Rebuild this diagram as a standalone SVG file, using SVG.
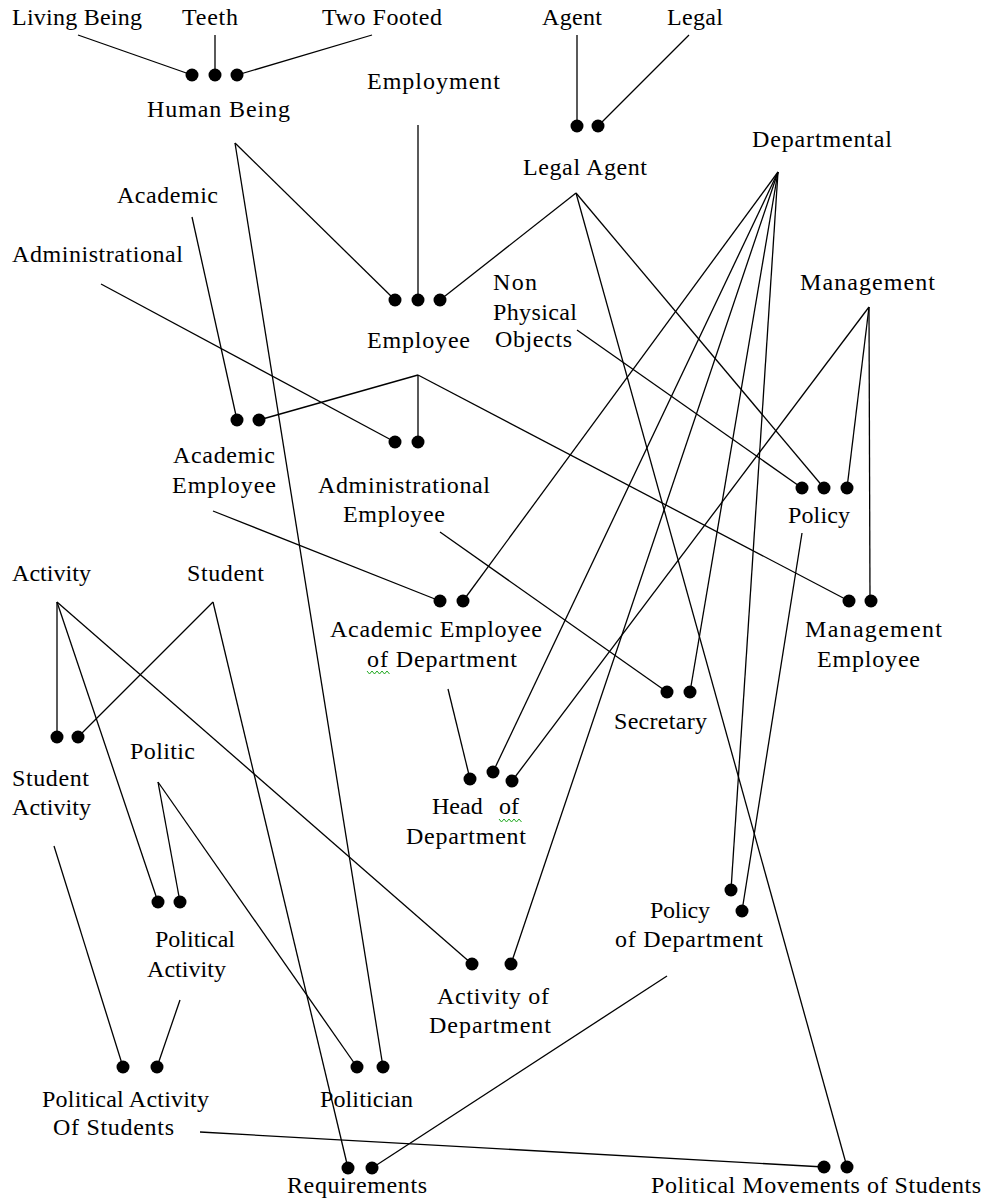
<svg xmlns="http://www.w3.org/2000/svg" width="985" height="1200" viewBox="0 0 985 1200">
<style>
text{font-family:"Liberation Serif","Times New Roman",serif;font-size:24px;fill:#000}
.c line{stroke:#000;stroke-width:1.3;fill:none}
.d{fill:#000}
.sq{stroke:#2a2;stroke-width:1;fill:none}
</style>
<defs><circle id="dot" r="6.5"/></defs>
<rect width="985" height="1200" fill="#fff"/>
<g id="connectors" class="c">
<line x1="78" y1="35" x2="192" y2="75"/>
<line x1="215" y1="35" x2="215" y2="75"/>
<line x1="372" y1="35" x2="237" y2="75"/>
<line x1="577" y1="35" x2="577" y2="126"/>
<line x1="689" y1="35" x2="598" y2="126"/>
<line x1="418" y1="125" x2="418" y2="300"/>
<line x1="235" y1="143" x2="395" y2="300"/>
<line x1="235" y1="143" x2="383" y2="1067"/>
<line x1="576" y1="193" x2="440" y2="300"/>
<line x1="576" y1="193" x2="824" y2="488"/>
<line x1="576" y1="193" x2="847" y2="1167"/>
<line x1="192" y1="217" x2="237" y2="420"/>
<line x1="101" y1="284" x2="395" y2="442"/>
<line x1="418" y1="375" x2="259" y2="420"/>
<line x1="418" y1="375" x2="418" y2="442"/>
<line x1="418" y1="375" x2="849" y2="601"/>
<line x1="577" y1="330" x2="802" y2="488"/>
<line x1="869" y1="307" x2="847" y2="488"/>
<line x1="869" y1="307" x2="870" y2="601"/>
<line x1="869" y1="307" x2="512" y2="781"/>
<line x1="778" y1="172" x2="463" y2="601"/>
<line x1="778" y1="172" x2="493" y2="772"/>
<line x1="778" y1="172" x2="511" y2="964"/>
<line x1="778" y1="172" x2="690" y2="692"/>
<line x1="778" y1="172" x2="731" y2="890"/>
<line x1="802" y1="533" x2="742" y2="911"/>
<line x1="213" y1="511" x2="440" y2="601"/>
<line x1="440" y1="532" x2="667" y2="692"/>
<line x1="448" y1="689" x2="470" y2="779"/>
<line x1="57" y1="602" x2="57" y2="737"/>
<line x1="57" y1="602" x2="158" y2="902"/>
<line x1="57" y1="602" x2="472" y2="964"/>
<line x1="213" y1="602" x2="78" y2="737"/>
<line x1="213" y1="602" x2="348" y2="1168"/>
<line x1="158" y1="782" x2="180" y2="902"/>
<line x1="158" y1="782" x2="357" y2="1067"/>
<line x1="54" y1="846" x2="123" y2="1067"/>
<line x1="180" y1="1000" x2="157" y2="1067"/>
<line x1="200" y1="1132" x2="824" y2="1167"/>
<line x1="667" y1="976" x2="372" y2="1168"/>
</g>
<g id="living-being"><text x="12" y="25" textLength="130" lengthAdjust="spacing">Living Being</text></g>
<g id="teeth"><text x="182" y="25" textLength="56" lengthAdjust="spacing">Teeth</text></g>
<g id="two-footed"><text x="322" y="25" textLength="120" lengthAdjust="spacing">Two Footed</text></g>
<g id="agent"><text x="542" y="25" textLength="60" lengthAdjust="spacing">Agent</text></g>
<g id="legal"><text x="667" y="25" textLength="56" lengthAdjust="spacing">Legal</text></g>
<g id="employment"><text x="367" y="89" textLength="133" lengthAdjust="spacing">Employment</text></g>
<g id="human-being" class="d">
<use href="#dot" x="192" y="75"/><use href="#dot" x="215" y="75"/><use href="#dot" x="237" y="75"/>
<text x="147" y="117" textLength="143" lengthAdjust="spacing">Human Being</text></g>
<g id="legal-agent" class="d">
<use href="#dot" x="577" y="126"/><use href="#dot" x="598" y="126"/>
<text x="523" y="175" textLength="124" lengthAdjust="spacing">Legal Agent</text></g>
<g id="departmental"><text x="752" y="147" textLength="140" lengthAdjust="spacing">Departmental</text></g>
<g id="academic"><text x="117" y="203" textLength="101" lengthAdjust="spacing">Academic</text></g>
<g id="administrational"><text x="12" y="262" textLength="171" lengthAdjust="spacing">Administrational</text></g>
<g id="non-physical-objects">
<text x="493" y="290" textLength="44" lengthAdjust="spacing">Non</text>
<text x="493" y="320" textLength="84" lengthAdjust="spacing">Physical</text>
<text x="495" y="347" textLength="77" lengthAdjust="spacing">Objects</text></g>
<g id="management"><text x="800" y="290" textLength="135" lengthAdjust="spacing">Management</text></g>
<g id="employee" class="d">
<use href="#dot" x="395" y="300"/><use href="#dot" x="418" y="300"/><use href="#dot" x="440" y="300"/>
<text x="367" y="348" textLength="103" lengthAdjust="spacing">Employee</text></g>
<g id="academic-employee" class="d">
<use href="#dot" x="237" y="420"/><use href="#dot" x="259" y="420"/>
<text x="173" y="463" textLength="102" lengthAdjust="spacing">Academic</text>
<text x="172" y="493" textLength="104" lengthAdjust="spacing">Employee</text></g>
<g id="administrational-employee" class="d">
<use href="#dot" x="395" y="442"/><use href="#dot" x="418" y="442"/>
<text x="318" y="493" textLength="172" lengthAdjust="spacing">Administrational</text>
<text x="343" y="522" textLength="102" lengthAdjust="spacing">Employee</text></g>
<g id="policy" class="d">
<use href="#dot" x="802" y="488"/><use href="#dot" x="824" y="488"/><use href="#dot" x="847" y="488"/>
<text x="788" y="523" textLength="62" lengthAdjust="spacing">Policy</text></g>
<g id="activity"><text x="12" y="581" textLength="79" lengthAdjust="spacing">Activity</text></g>
<g id="student"><text x="187" y="581" textLength="77" lengthAdjust="spacing">Student</text></g>
<g id="academic-employee-of-department" class="d">
<use href="#dot" x="440" y="601"/><use href="#dot" x="463" y="601"/>
<text x="330" y="637" textLength="212" lengthAdjust="spacing">Academic Employee</text>
<text x="367" y="667" textLength="150" lengthAdjust="spacing">of Department</text>
<path class="sq" d="M367 671l2.5 3 2.5-3 2.5 3 2.5-3 2.5 3 2.5-3 2.5 3 2.5-3 2.5 3"/></g>
<g id="management-employee" class="d">
<use href="#dot" x="849" y="601"/><use href="#dot" x="871" y="601"/>
<text x="805" y="637" textLength="137" lengthAdjust="spacing">Management</text>
<text x="817" y="667" textLength="103" lengthAdjust="spacing">Employee</text></g>
<g id="secretary" class="d">
<use href="#dot" x="667" y="692"/><use href="#dot" x="690" y="692"/>
<text x="614" y="729" textLength="93" lengthAdjust="spacing">Secretary</text></g>
<g id="student-activity" class="d">
<use href="#dot" x="57" y="737"/><use href="#dot" x="78" y="737"/>
<text x="12" y="786" textLength="77" lengthAdjust="spacing">Student</text>
<text x="12" y="815" textLength="79" lengthAdjust="spacing">Activity</text></g>
<g id="politic"><text x="130" y="759" textLength="65" lengthAdjust="spacing">Politic</text></g>
<g id="head-of-department" class="d">
<use href="#dot" x="470" y="779"/><use href="#dot" x="493" y="772"/><use href="#dot" x="512" y="781"/>
<text x="432" y="814">Head <tspan x="499">of</tspan></text>
<text x="406" y="844" textLength="120" lengthAdjust="spacing">Department</text>
<path class="sq" d="M499 819l2.5 3 2.5-3 2.5 3 2.5-3 2.5 3 2.5-3 2.5 3 2.5-3 2.5 3"/></g>
<g id="policy-of-department" class="d">
<use href="#dot" x="731" y="890"/><use href="#dot" x="742" y="911"/>
<text x="650" y="918" textLength="60" lengthAdjust="spacing">Policy</text>
<text x="615" y="947" textLength="148" lengthAdjust="spacing">of Department</text></g>
<g id="political-activity" class="d">
<use href="#dot" x="158" y="902"/><use href="#dot" x="180" y="902"/>
<text x="155" y="947" textLength="80" lengthAdjust="spacing">Political</text>
<text x="147" y="977" textLength="79" lengthAdjust="spacing">Activity</text></g>
<g id="activity-of-department" class="d">
<use href="#dot" x="472" y="964"/><use href="#dot" x="511" y="964"/>
<text x="437" y="1004" textLength="112" lengthAdjust="spacing">Activity of</text>
<text x="429" y="1033" textLength="122" lengthAdjust="spacing">Department</text></g>
<g id="political-activity-of-students" class="d">
<use href="#dot" x="123" y="1067"/><use href="#dot" x="157" y="1067"/>
<text x="42" y="1107" textLength="167" lengthAdjust="spacing">Political Activity</text>
<text x="53" y="1135" textLength="121" lengthAdjust="spacing">Of Students</text></g>
<g id="politician" class="d">
<use href="#dot" x="357" y="1067"/><use href="#dot" x="383" y="1067"/>
<text x="320" y="1107" textLength="93" lengthAdjust="spacing">Politician</text></g>
<g id="requirements" class="d">
<use href="#dot" x="348" y="1168"/><use href="#dot" x="372" y="1168"/>
<text x="287" y="1193" textLength="140" lengthAdjust="spacing">Requirements</text></g>
<g id="political-movements-of-students" class="d">
<use href="#dot" x="824" y="1167"/><use href="#dot" x="847" y="1167"/>
<text x="651" y="1193" textLength="330" lengthAdjust="spacing">Political Movements of Students</text></g>
</svg>
